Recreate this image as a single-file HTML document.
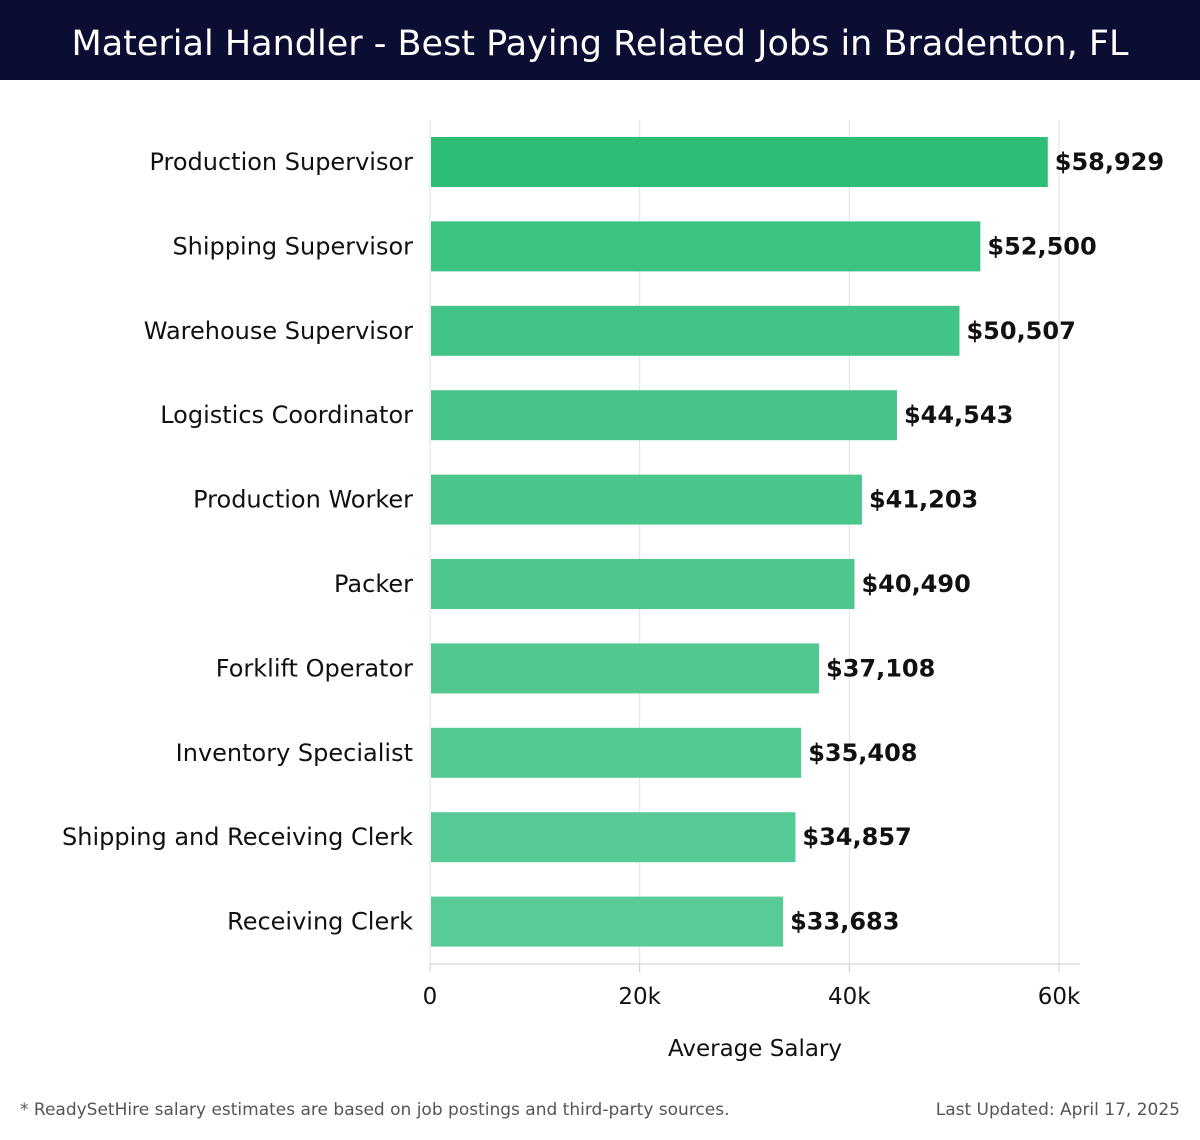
<!DOCTYPE html>
<html><head><meta charset="utf-8">
<style>
body{margin:0;width:1200px;height:1140px;background:#fff;font-family:"DejaVu Sans","Liberation Sans",sans-serif;overflow:hidden}
#hdr{position:absolute;left:0;top:0;width:1200px;height:80px;background:#0b0d33;color:#fff;font-size:35px;text-align:center;line-height:88px}
svg{position:absolute;left:0;top:0}
.foot{position:absolute;top:1100px;font-size:17px;color:#555}
</style></head><body>
<div id="hdr">Material Handler - Best Paying Related Jobs in Bradenton, FL</div>
<svg id="chart" width="1200" height="1140"></svg>
<div class="foot" style="left:20px">* ReadySetHire salary estimates are based on job postings and third-party sources.</div>
<div class="foot" style="right:20px">Last Updated: April 17, 2025</div>
<script>
const categories=["Production Supervisor","Shipping Supervisor","Warehouse Supervisor","Logistics Coordinator","Production Worker","Packer","Forklift Operator","Inventory Specialist","Shipping and Receiving Clerk","Receiving Clerk"];
const salaries=[58929,52500,50507,44543,41203,40490,37108,35408,34857,33683];
const ticks=[0,20000,40000,60000];
const tickLabels=["0","20k","40k","60k"];

const NS="http://www.w3.org/2000/svg";
const svg=document.getElementById('chart');
const x0=430,pxPerUnit=(1059-430)/60000;
const xs=v=>x0+v*pxPerUnit;
const top0=120,bandH=84.4,barH=50;
const yc=i=>top0+42+i*bandH;
function mk(tag,attrs,txt){const e=document.createElementNS(NS,tag);for(const k in attrs)e.setAttribute(k,attrs[k]);if(txt!=null)e.textContent=txt;svg.appendChild(e);return e;}
const baseY=964;
ticks.forEach((t,i)=>{
  const g=mk('line',{x1:xs(t),x2:xs(t),y1:top0,y2:baseY,stroke:'#e2e2e2','stroke-width':1});
  
  
  const tk=mk('line',{x1:xs(t),x2:xs(t),y1:baseY,y2:972,stroke:'#ccc','stroke-width':1});
  
  
  const tl=mk('text',{x:xs(t),y:1004,'text-anchor':'middle','font-size':23,fill:'#111'},tickLabels[i]);
  
  
});
const ax=mk('line',{x1:x0,x2:1080,y1:baseY,y2:baseY,stroke:'#ccc','stroke-width':1});


function col(i){const a=[46,189,119],b=[88,203,150],f=Math.sqrt(i/(categories.length-1));return 'rgb('+a.map((v,k)=>Math.round(v+(b[k]-v)*f)).join(',')+')';}
categories.forEach((c,i)=>{
  const y=yc(i);
  const r=mk('rect',{x:x0+1,y:y-barH/2,width:xs(salaries[i])-x0-1,height:barH,fill:col(i)});
  
  
  const l=mk('text',{x:413,y:y+8,'text-anchor':'end','font-size':24,fill:'#111'},c);
  
  
  const v=mk('text',{x:xs(salaries[i])+7,y:y+8,'font-size':24,'font-weight':'bold',fill:'#111'},'$'+salaries[i].toLocaleString('en-US'));
  
  
});
const xt=mk('text',{x:755,y:1056,'text-anchor':'middle','font-size':23,fill:'#111'},'Average Salary');


</script>
</body></html>
